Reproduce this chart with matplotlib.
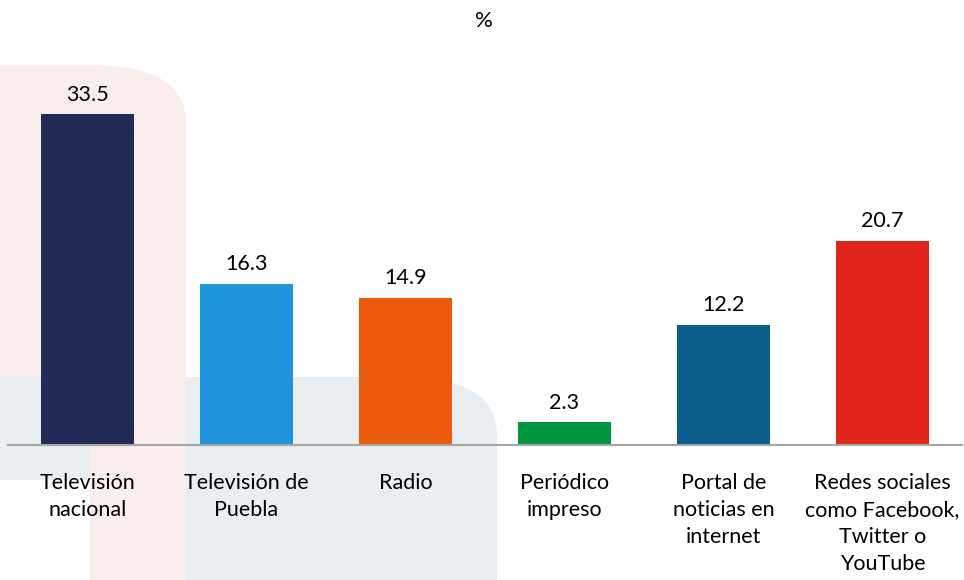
import matplotlib.pyplot as plt
from matplotlib.patches import FancyBboxPatch, Rectangle

# datos
categorias = ["Televisión\nnacional", "Televisión de\nPuebla", "Radio",
              "Periódico\nimpreso", "Portal de\nnoticias en\ninternet",
              "Redes sociales\ncomo Facebook,\nTwitter o\nYouTube"]
valores = [33.5, 16.3, 14.9, 2.3, 12.2, 20.7]
colores = ["#222B57", "#1F93DE", "#E95A0C", "#00963F", "#0B5E8B", "#E1251B"]

plt.rcParams['font.family'] = ['Lato', 'DejaVu Sans']

W, H = 964, 580
fig = plt.figure(figsize=(W / 100, H / 100), dpi=100)


def px(x0, y0, x1, y1):
    # caja en pixeles (origen arriba a la izquierda) -> fraccion de figura
    return x0 / W, 1 - y1 / H, (x1 - x0) / W, (y1 - y0) / H


# fondo decorativo
def caja(x0, y0, x1, y1, color, r=0.0):
    l, b, w, h = px(x0, y0, x1, y1)
    if r > 0:
        p = FancyBboxPatch((l - 0.1, b - 0.1), w + 0.1, h + 0.1,
                           boxstyle=f"round,pad=0,rounding_size={r}",
                           transform=fig.transFigure, fc=color, ec="none",
                           zorder=-5)
    else:
        p = Rectangle((l, b), w, h, transform=fig.transFigure,
                      fc=color, ec="none", zorder=-5)
    fig.patches.append(p)


caja(0, 65, 186, 580, "#FAEEEC", r=0.1)
caja(186, 377, 497, 580, "#E9EEF3", r=0.1)
caja(0, 377, 90, 480, "#E9EEF3")
caja(0, 480, 90, 580, "white")
caja(90, 372, 186, 580, "#FAEEEC")

# ejes
ax = fig.add_axes(px(8, 70, 962, 445))
ax.set_zorder(2)
ax.patch.set_alpha(0)
x = range(len(valores))
bars = ax.bar(x, valores, width=0.58, color=colores, zorder=2)
ax.set_xlim(-0.5, 5.5)
ax.set_ylim(0, 38)

for b, v in zip(bars, valores):
    ax.annotate(f"{v:.1f}", xy=(b.get_x() + b.get_width() / 2, v),
                xytext=(0, 7), textcoords="offset points",
                ha="center", va="bottom", fontsize=15.5, color="black")

ax.set_xticks(list(x))
ax.set_xticklabels(categorias, fontsize=15.5, linespacing=1.45, va="top")
ax.tick_params(axis="x", length=0, pad=20)
ax.set_yticks([])
for s in ["left", "top", "right"]:
    ax.spines[s].set_visible(False)
ax.spines["bottom"].set_color("#A6A6A6")
ax.spines["bottom"].set_linewidth(1.5)

fig.text(484 / W, 1 - 21 / H, "%", ha="center", va="center", fontsize=16)

fig.savefig("out.png", dpi=100)
